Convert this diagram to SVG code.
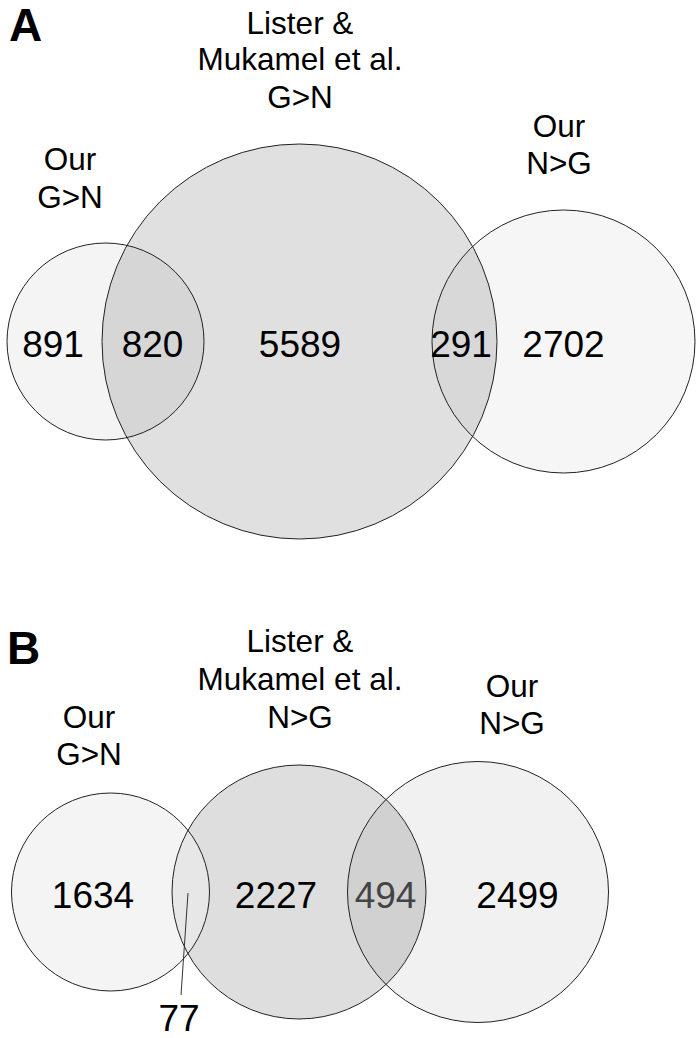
<svg xmlns="http://www.w3.org/2000/svg" width="700" height="1038" viewBox="0 0 700 1038">
<style>
  .lbl { font-family: "Liberation Sans", Arial, sans-serif; font-size: 31.5px; fill: #000; text-anchor: middle; }
  .num { font-family: "Liberation Sans", Arial, sans-serif; font-size: 37px; fill: #000; text-anchor: middle; }
  .panel { font-family: "Liberation Sans", Arial, sans-serif; font-size: 46px; font-weight: bold; fill: #000; }
  .ring { fill: none; stroke: #222; stroke-width: 1; }
</style>
<rect width="700" height="1038" fill="#fff"/>

<text class="panel" x="9" y="41">A</text>
<text class="panel" x="7" y="664">B</text>

<!-- Panel A -->
<g id="A-lister">
  <circle cx="299.5" cy="341.5" r="197.5" fill="#000" fill-opacity="0.12"/>
  <text class="lbl"><tspan x="300" y="34">Lister &amp;</tspan><tspan x="300" y="70">Mukamel et al.</tspan><tspan x="300" y="108">G&gt;N</tspan></text>
</g>
<g id="A-ourGN">
  <circle cx="105.5" cy="341.5" r="98.5" fill="#000" fill-opacity="0.045"/>
  <text class="lbl"><tspan x="70" y="170">Our</tspan><tspan x="70" y="208">G&gt;N</tspan></text>
</g>
<g id="A-ourNG">
  <circle cx="563.5" cy="341.5" r="131.5" fill="#000" fill-opacity="0.035"/>
  <text class="lbl"><tspan x="559" y="137">Our</tspan><tspan x="559" y="174">N&gt;G</tspan></text>
</g>
<g id="A-rings">
  <circle class="ring" cx="299.5" cy="341.5" r="197.5"/>
  <circle class="ring" cx="105.5" cy="341.5" r="98.5"/>
  <circle class="ring" cx="563.5" cy="341.5" r="131.5"/>
</g>
<g id="A-numbers">
  <text class="num" x="53" y="357">891</text>
  <text class="num" x="152.5" y="357">820</text>
  <text class="num" x="300" y="357">5589</text>
  <text class="num" x="461" y="357">291</text>
  <text class="num" x="563.5" y="357">2702</text>
</g>

<!-- Panel B -->
<g id="B-lister">
  <circle cx="299" cy="892" r="127" fill="#dedede"/>
  <text class="lbl"><tspan x="300" y="652">Lister &amp;</tspan><tspan x="300" y="690">Mukamel et al.</tspan><tspan x="300" y="728">N&gt;G</tspan></text>
</g>
<g id="B-ourNG">
  <circle cx="478" cy="892" r="130.5" fill="#000" fill-opacity="0.055"/>
  <text class="lbl"><tspan x="512" y="697">Our</tspan><tspan x="512" y="734">N&gt;G</tspan></text>
</g>
<g id="B-ourGN">
  <circle cx="110.5" cy="892" r="99" fill="#ececec" fill-opacity="0.6"/>
  <text class="lbl"><tspan x="89" y="728">Our</tspan><tspan x="89" y="765">G&gt;N</tspan></text>
</g>
<g id="B-rings">
  <circle class="ring" cx="299" cy="892" r="127"/>
  <circle class="ring" cx="478" cy="892" r="130.5"/>
  <circle class="ring" cx="110.5" cy="892" r="99"/>
</g>
<g id="connectors">
  <line x1="188" y1="893" x2="181" y2="995" stroke="#333" stroke-width="1"/>
</g>
<g id="B-numbers">
  <text class="num" x="93" y="908">1634</text>
  <text class="num" x="276" y="908">2227</text>
  <text class="num" x="385.5" y="908" style="fill:#444">494</text>
  <text class="num" x="517.5" y="908">2499</text>
  <text class="num" x="179" y="1031">77</text>
</g>
</svg>
